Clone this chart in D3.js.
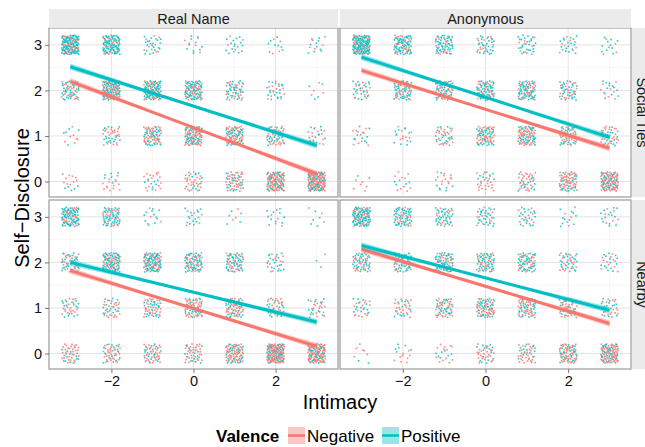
<!DOCTYPE html>
<html>
<head>
<meta charset="utf-8">
<script src="https://cdn.jsdelivr.net/npm/d3@7"></script>
<style>
  body { margin: 0; background: #fff; }
  svg text { font-family: "Liberation Sans", Arial, Helvetica, sans-serif; }
</style>
</head>
<body>
<svg id="chart" width="645" height="447"></svg>
<script>
// data
var intimacy = [-3, -2, -1, 0, 1, 2, 3];
var disclosure = [0, 1, 2, 3];
var valences = ["Negative", "Positive"];
var columns = ["Real Name", "Anonymous"];
var rows = ["Social Ties", "Nearby"];
var xTicks = [-2, 0, 2];
var yTicks = [0, 1, 2, 3];

// approx point counts per cell, one row per disclosure level (0..3), columns = intimacy -3..3
var countsRealSocial = [
  [15, 20, 25, 40, 60, 120, 150],
  [12, 40, 80, 100, 90, 60, 25],
  [60, 120, 110, 100, 55, 30, 8],
  [150, 110, 30, 15, 20, 12, 15]
];
var countsAnonSocial = [
  [8, 15, 20, 30, 45, 75, 110],
  [20, 20, 40, 80, 90, 60, 45],
  [35, 70, 70, 80, 85, 50, 20],
  [150, 90, 70, 40, 35, 25, 15]
];
var countsRealNearby = [
  [45, 50, 55, 50, 90, 150, 130],
  [35, 40, 60, 70, 70, 40, 30],
  [50, 100, 110, 80, 70, 30, 3],
  [100, 70, 15, 20, 8, 15, 8]
];
var countsAnonNearby = [
  [8, 15, 20, 40, 45, 80, 110],
  [30, 35, 60, 80, 70, 50, 35],
  [60, 60, 80, 70, 70, 45, 25],
  [110, 70, 50, 40, 30, 15, 20]
];
// share of positive points per disclosure level
var positiveShare = [0.35, 0.45, 0.6, 0.72];

// fitted lines: value at intimacy -3 and +3, facets in order RS, AS, RN, AN
var fitNegative = [[2.20, 0.17], [2.44, 0.73], [1.82, 0.16], [2.29, 0.66]];
var fitPositive = [[2.52, 0.79], [2.73, 0.97], [2.00, 0.69], [2.37, 0.95]];
var ciEnd = 0.07, ciMid = 0.03;

var facetCounts = [countsRealSocial, countsAnonSocial, countsRealNearby, countsAnonNearby];
var colors = { Negative: "#F8766D", Positive: "#00BFC4" };

var svg = d3.select("#chart");
var panelX = [[49, 338], [340, 631]];
var panelY = [[28, 197], [200, 369]];

function halton(i, b) {
  var f = 1, r = 0;
  while (i > 0) { f = f / b; r += f * (i % b); i = Math.floor(i / b); }
  return r;
}

rows.forEach(function(rowName, ri) {
  columns.forEach(function(colName, ci) {
    var fi = ri * 2 + ci;
    var x = d3.scaleLinear().domain([-3.52, 3.52]).range(panelX[ci]);
    var y = d3.scaleLinear().domain([-0.34, 3.37]).range([panelY[ri][1], panelY[ri][0]]);
    var g = svg.append("g");

    // grid
    d3.range(-3, 4).forEach(function(v) {
      g.append("line").attr("x1", x(v)).attr("x2", x(v)).attr("y1", y.range()[1]).attr("y2", y.range()[0])
        .attr("stroke", v % 2 === 0 ? "#e3e3e3" : "#f2f2f2").attr("stroke-width", v % 2 === 0 ? 1 : 0.6);
    });
    [0.5, 1.5, 2.5].forEach(function(v) {
      g.append("line").attr("x1", x.range()[0]).attr("x2", x.range()[1]).attr("y1", y(v)).attr("y2", y(v))
        .attr("stroke", "#f2f2f2").attr("stroke-width", 0.6);
    });
    yTicks.forEach(function(v) {
      g.append("line").attr("x1", x.range()[0]).attr("x2", x.range()[1]).attr("y1", y(v)).attr("y2", y(v))
        .attr("stroke", "#e3e3e3").attr("stroke-width", 1);
    });

    // jittered points
    var pts = [];
    var counts = facetCounts[fi];
    disclosure.forEach(function(dv, di) {
      intimacy.forEach(function(iv, ii) {
        var n = counts[di][ii];
        var share = positiveShare[di];
        var off = (fi * 28 + di * 7 + ii) * 53 + 1;
        for (var k = 0; k < n; k++) {
          var pos = Math.floor((k + 1) * share) > Math.floor(k * share);
          pts.push({
            x: iv + (halton(k + off, 2) - 0.5) * 0.42,
            y: dv + (halton(k + off, 3) - 0.5) * 0.42,
            v: pos ? "Positive" : "Negative"
          });
        }
      });
    });
    g.selectAll("rect.pt").data(pts).enter().append("rect")
      .attr("class", "pt")
      .attr("x", function(d) { return x(d.x) - 0.8; })
      .attr("y", function(d) { return y(d.y) - 0.8; })
      .attr("width", 1.6).attr("height", 1.6)
      .attr("fill", function(d) { return colors[d.v]; })
      .attr("opacity", 0.85);

    // fit lines with ribbons
    valences.forEach(function(vName) {
      var fit = (vName === "Negative" ? fitNegative : fitPositive)[fi];
      var line = d3.scaleLinear().domain([-3, 3]).range(fit);
      var xs = d3.range(-3, 3.01, 0.25);
      var hw = function(t) { return Math.sqrt(ciMid * ciMid + (ciEnd * ciEnd - ciMid * ciMid) * (t / 3) * (t / 3)); };
      g.append("path")
        .attr("d", d3.area().x(function(t) { return x(t); })
          .y0(function(t) { return y(line(t) - hw(t)); })
          .y1(function(t) { return y(line(t) + hw(t)); })(xs))
        .attr("fill", colors[vName]).attr("opacity", 0.4);
      g.append("line")
        .attr("x1", x(-3)).attr("y1", y(fit[0])).attr("x2", x(3)).attr("y2", y(fit[1]))
        .attr("stroke", colors[vName]).attr("stroke-width", 3);
    });

    // border
    g.append("rect").attr("x", x.range()[0]).attr("y", y.range()[1])
      .attr("width", x.range()[1] - x.range()[0]).attr("height", y.range()[0] - y.range()[1])
      .attr("fill", "none").attr("stroke", "#999").attr("stroke-width", 1.2);

    // axes
    if (ci === 0) {
      var ya = svg.append("g").attr("transform", "translate(" + x.range()[0] + ",0)")
        .call(d3.axisLeft(y).tickValues(yTicks).tickSize(4).tickPadding(3).tickFormat(d3.format("d")));
      ya.select(".domain").remove();
      ya.selectAll("line").attr("stroke", "#777");
      ya.selectAll("text").attr("font-size", 14.5).attr("fill", "#111");
    }
    if (ri === 1) {
      var xa = svg.append("g").attr("transform", "translate(0," + y.range()[0] + ")")
        .call(d3.axisBottom(x).tickValues(xTicks).tickSize(4).tickPadding(3)
          .tickFormat(function(d) { return d < 0 ? "\u2212" + (-d) : d; }));
      xa.select(".domain").remove();
      xa.selectAll("line").attr("stroke", "#777");
      xa.selectAll("text").attr("font-size", 14.5).attr("fill", "#111");
    }

    // strips
    if (ri === 0) {
      svg.append("rect").attr("x", x.range()[0]).attr("y", 9).attr("width", x.range()[1] - x.range()[0]).attr("height", 19)
        .attr("fill", "#ebebeb");
      svg.append("text").attr("x", (x.range()[0] + x.range()[1]) / 2).attr("y", 19).attr("dy", "0.35em")
        .attr("text-anchor", "middle").attr("font-size", 14.5).attr("fill", "#1a1a1a").text(colName);
    }
    if (ci === 1) {
      svg.append("rect").attr("x", 632).attr("y", y.range()[1]).attr("width", 20).attr("height", y.range()[0] - y.range()[1])
        .attr("fill", "#ebebeb");
      var cy = (y.range()[0] + y.range()[1]) / 2;
      svg.append("text").attr("transform", "translate(642," + cy + ") rotate(90)").attr("dy", "0.35em")
        .attr("text-anchor", "middle").attr("font-size", 14.5).attr("fill", "#1a1a1a").text(rowName);
    }
  });
});

// axis titles
svg.append("text").attr("x", 340).attr("y", 402).attr("dy", "0.35em").attr("text-anchor", "middle")
  .attr("font-size", 20).text("Intimacy");
svg.append("text").attr("transform", "translate(22,198) rotate(-90)").attr("dy", "0.35em").attr("text-anchor", "middle")
  .attr("font-size", 20).text("Self\u2212Disclosure");

// legend
var lg = svg.append("g");
lg.append("text").attr("x", 216).attr("y", 436).attr("dy", "0.35em").attr("font-size", 17).attr("font-weight", "bold").text("Valence");
var keyX = [288, 382], labX = [307, 401];
valences.forEach(function(v, i) {
  lg.append("rect").attr("x", keyX[i]).attr("y", 427).attr("width", 17).attr("height", 17)
    .attr("fill", colors[v]).attr("opacity", 0.4);
  lg.append("line").attr("x1", keyX[i]).attr("x2", keyX[i] + 17).attr("y1", 435.5).attr("y2", 435.5)
    .attr("stroke", colors[v]).attr("stroke-width", 2.5);
  lg.append("text").attr("x", labX[i]).attr("y", 436).attr("dy", "0.35em").attr("font-size", 17).text(v);
});
</script>
</body>
</html>
